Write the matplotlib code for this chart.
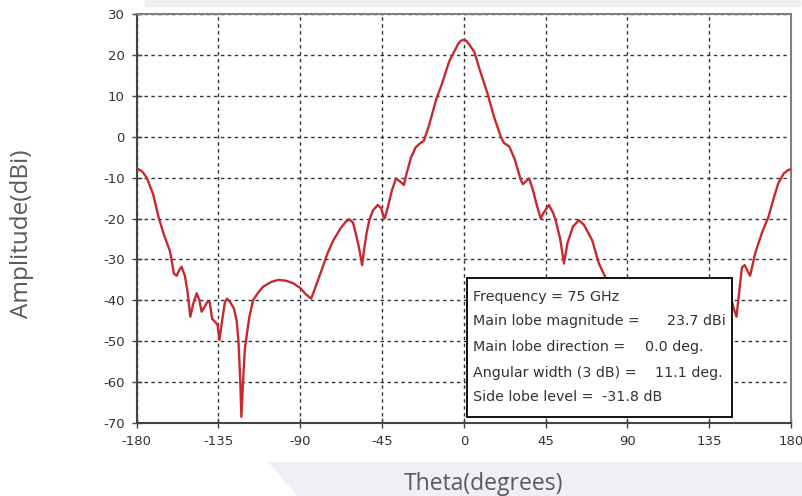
import matplotlib

matplotlib.use("Agg")
import matplotlib.pyplot as plt
from matplotlib.patches import Polygon, Rectangle
import numpy as np

# radiation pattern (theta in deg, amplitude in dBi)
theta = [
    -180, -177, -174.5, -171, -168, -165, -161.7, -159.5, -158, -156.5,
    -155.3, -153.5, -152, -150.5, -149, -147, -145.5, -144.3, -142.5, -141,
    -139.8, -138.5, -137, -135.5, -134.5, -133, -131.5, -130.3, -128.5, -126.5,
    -125, -124, -123, -122.4, -121.5, -120.5, -119.6, -118, -116, -113,
    -110.5, -106, -102, -98, -94, -90, -87, -84, -81, -77.6,
    -75, -72, -68, -65, -63, -61, -59.5, -58, -56.5, -56,
    -55, -53.5, -52, -50, -47.4, -45.5, -44, -43.5, -42, -39.5,
    -37.3, -35, -33, -31.5, -29, -26.5, -24, -22, -19, -15.3,
    -12, -8, -5.3, -3, -1.5, 0, 1.5, 3, 5.7, 9,
    13, 16.5, 20.3, 22, 25, 28, 31.3, 32.5, 34, 35.9,
    38, 40, 42.3, 44, 46.8, 49, 50.5, 53, 55.1, 57,
    60, 63.3, 66, 70.6, 74.3, 78, 82, 86, 90, 95,
    100, 105, 110, 115, 120, 125, 130, 135, 140, 144,
    146.6, 148.5, 150, 151.5, 153, 154.5, 157.5, 160.3, 164, 167.6,
    170.5, 173, 176, 178.6, 180,
]
amplitude = [
    -7.7, -8.5, -10.0, -14, -19.6, -24, -28, -33.5, -34, -32.5,
    -31.8, -34, -38, -44, -41, -38.3, -40, -42.8, -41.5, -40.3,
    -40.5, -44.5, -45.2, -46, -49.7, -45, -40.5, -39.6, -40.5, -42,
    -45, -50, -60, -68.5, -60, -52, -49, -44, -40, -38,
    -36.7, -35.5, -35, -35.2, -35.8, -37, -38.5, -39.6, -36, -31.8,
    -28.5, -25.5, -22.5, -20.8, -20.2, -21, -23.6, -26.5, -30, -31.4,
    -28, -23.5, -20.4, -18, -16.7, -17.5, -19.8, -20, -17.5, -13,
    -10.2, -11, -11.8, -9, -5, -2.6, -1.6, -1.0, 3, 9,
    13, 18.5, 20.8, 22.8, 23.5, 23.7, 23.4, 22.5, 20.8, 16,
    10.6, 5, 0, -1.5, -2.4, -5.5, -10.5, -11.6, -11, -10.2,
    -13, -16.5, -20, -18.5, -16.7, -18.5, -20.4, -25, -31, -26,
    -22, -20.4, -21.5, -25.3, -31, -34.5, -38, -42, -47, -43,
    -40, -38, -39, -42, -48, -44, -42, -41, -40, -38,
    -38.7, -42, -44, -38, -32, -31.4, -34, -28.5, -23.5, -19.6,
    -15, -11.4, -9, -8.1, -8,
]

x_ticks = [-180, -135, -90, -45, 0, 45, 90, 135, 180]
y_ticks = [-70, -60, -50, -40, -30, -20, -10, 0, 10, 20, 30]

info_labels = [
    "Frequency = 75 GHz",
    "Main lobe magnitude =",
    "Main lobe direction =",
    "Angular width (3 dB) =",
    "Side lobe level =",
]
info_values = ["", "23.7 dBi", "0.0 deg.", "11.1 deg.", "-31.8 dB"]

plt.rcParams["axes.unicode_minus"] = False

fig = plt.figure(figsize=(8.03, 4.96), dpi=100)
W, H = 803, 496

# slide decorations behind the chart
fig.patches.append(Rectangle((145 / W, 1 - 6 / H), 655 / W, 6 / H,
                             transform=fig.transFigure, color="#eceef1", zorder=0))
fig.patches.append(Polygon([(269 / W, 1 - 462 / H), (1, 1 - 462 / H), (1, 0), (298 / W, 0)],
                           closed=True, transform=fig.transFigure, color="#eef0f3", zorder=0))

ax = fig.add_axes([136.7 / W, 1 - 423 / H, 654.3 / W, 409 / H])
ax.plot(theta, amplitude, color="#c62a2f", lw=1.7, zorder=3)

ax.set_xlim(-180, 180)
ax.set_ylim(-70, 30)
ax.set_xticks(x_ticks)
ax.set_yticks(y_ticks)
ax.tick_params(direction="inout", length=7, width=1, color="#444444",
               labelsize=9.5, labelcolor="#333333", pad=5)
ax.grid(True, color="#333333", lw=1.0, linestyle=(0, (2.5, 2.5)), zorder=1)

for side in ["left", "bottom"]:
    ax.spines[side].set_color("#444444")
    ax.spines[side].set_linewidth(1.5)
for side in ["top", "right"]:
    ax.spines[side].set_color("#808080")
    ax.spines[side].set_linewidth(1.5)

# info box
box_x0, box_x1 = 0.5044, 0.9094
box_y0, box_y1 = 0.0154, 0.3538
ax.add_patch(Rectangle((box_x0, box_y0), box_x1 - box_x0, box_y1 - box_y0,
                       transform=ax.transAxes, facecolor="white",
                       edgecolor="#111111", lw=1.4, zorder=4))
line_y = [0.3088, 0.2494, 0.1866, 0.1230, 0.0628]
value_x = [0, 0.8099, 0.7768, 0.7921, 0.7107]
for lab, val, yy, vx in zip(info_labels, info_values, line_y, value_x):
    ax.text(0.5135, yy, lab, transform=ax.transAxes, fontsize=10.3,
            color="#333333", va="center", ha="left", zorder=5)
    if val:
        ax.text(vx, yy, val, transform=ax.transAxes, fontsize=10.3,
                color="#333333", va="center", ha="left", zorder=5)

fig.text(22 / W, 1 - 234 / H, "Amplitude(dBi)", rotation=90, ha="center", va="center",
         fontsize=17.5, family="Open Sans", color="#595959")
fig.text(484 / W, 1 - 484 / H, "Theta(degrees)", ha="center", va="center",
         fontsize=16.5, family="Open Sans", color="#595959")

fig.savefig("out.png", dpi=100)
